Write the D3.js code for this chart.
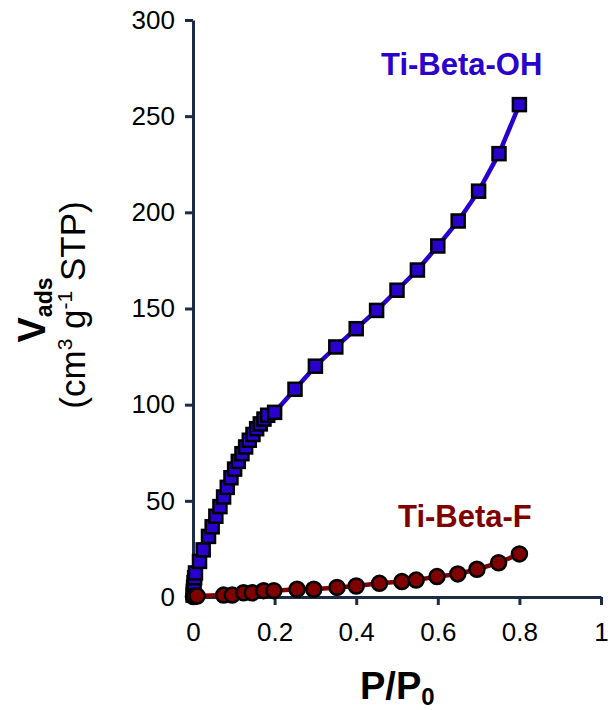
<!DOCTYPE html>
<head>
	<meta charset="UTF-8">
	<script src="https://d3js.org/d3.v7.min.js"></script>
	<style>
		body { margin: 0; background: #fff; }
		text { font-family: "Liberation Sans", Arial, sans-serif; }
	</style>
</head>
<body>
	<div id="chart"></div>
<script>

// Ti-Beta-OH isotherm (squares)
const ohP = [0.0003, 0.0008, 0.0015, 0.0025, 0.004, 0.006, 0.016, 0.025, 0.038, 0.047, 0.056, 0.066, 0.075, 0.084, 0.093,
  0.102, 0.111, 0.120, 0.129, 0.138, 0.147, 0.156, 0.165, 0.174, 0.183, 0.2, 0.25, 0.30, 0.35, 0.40, 0.45,
  0.50, 0.55, 0.60, 0.65, 0.70, 0.75, 0.80];
const ohV = [1, 3, 5, 7.5, 10, 12.5, 18.5, 24.5, 31.5, 36.5, 42, 47, 52, 57, 62,
  66.5, 70.5, 74.5, 78, 81.5, 84.5, 87.5, 90, 92.5, 94.5, 96, 108, 120, 130, 139.5, 149,
  159.5, 170, 182.5, 195.5, 211, 230.5, 256];

// Ti-Beta-F isotherm (circles)
const fP = [0.001, 0.003, 0.01, 0.075, 0.096, 0.124, 0.145, 0.173, 0.198, 0.255, 0.296, 0.353, 0.40, 0.457,
  0.512, 0.547, 0.598, 0.649, 0.696, 0.749, 0.80];
const fV = [0.2, 0.4, 0.5, 1, 1, 2.2, 2.2, 3.3, 3.3, 4, 4, 5, 5.7, 7.1,
  8, 8.8, 10.6, 12, 14.4, 17.8, 22.4];

const xTicks = [0, 0.2, 0.4, 0.6, 0.8, 1];
const yTicks = [0, 50, 100, 150, 200, 250, 300];

const width = 608, height = 710;
const blue = "#2a00cc", red = "#800000", axisCol = "#1c2c48";

const x = d3.scaleLinear().domain([0, 1]).range([193, 601]);
const y = d3.scaleLinear().domain([0, 300]).range([597, 20]);

const svg = d3.select("#chart").append("svg")
  .attr("width", width)
  .attr("height", height);

// axes
const xAxis = svg.append("g")
  .attr("transform", `translate(0,${y(0)})`)
  .call(d3.axisBottom(x).tickValues(xTicks).tickFormat(d3.format("")).tickSize(8).tickSizeOuter(0).tickPadding(18));
const yAxis = svg.append("g")
  .attr("transform", `translate(${x(0)},0)`)
  .call(d3.axisLeft(y).tickValues(yTicks).tickSize(8).tickSizeOuter(0).tickPadding(10));

[xAxis, yAxis].forEach(a => {
  a.select(".domain").attr("stroke", axisCol).attr("stroke-width", 3);
  a.selectAll(".tick line").attr("stroke", axisCol).attr("stroke-width", 3);
  a.selectAll(".tick text").attr("font-size", 26).attr("fill", "#000")
    .attr("font-family", "Liberation Sans, Arial, sans-serif");
});

const line = d3.line().x(d => x(d[0])).y(d => y(d[1]));
const ohData = ohP.map((p, i) => [p, ohV[i]]);
const fData = fP.map((p, i) => [p, fV[i]]);

// Ti-Beta-OH
svg.append("path").datum(ohData)
  .attr("d", line)
  .attr("fill", "none")
  .attr("stroke", blue)
  .attr("stroke-width", 4.5);
svg.append("g").selectAll("rect")
  .data(ohData)
  .join("rect")
  .attr("x", d => x(d[0]) - 6.5)
  .attr("y", d => y(d[1]) - 6.5)
  .attr("width", 13)
  .attr("height", 13)
  .attr("fill", blue)
  .attr("stroke", "#000")
  .attr("stroke-width", 2.5);

// Ti-Beta-F
svg.append("path").datum(fData)
  .attr("d", line)
  .attr("fill", "none")
  .attr("stroke", red)
  .attr("stroke-width", 4.5);
svg.append("g").selectAll("circle")
  .data(fData)
  .join("circle")
  .attr("cx", d => x(d[0]))
  .attr("cy", d => y(d[1]))
  .attr("r", 7.5)
  .attr("fill", red)
  .attr("stroke", "#000")
  .attr("stroke-width", 2.5);

// series labels
svg.append("text")
  .attr("x", 381).attr("y", 75)
  .attr("font-size", 31).attr("font-weight", "bold")
  .attr("fill", blue)
  .text("Ti-Beta-OH");
svg.append("text")
  .attr("x", 398).attr("y", 527)
  .attr("font-size", 31).attr("font-weight", "bold")
  .attr("fill", red)
  .text("Ti-Beta-F");

// x title
const xt = svg.append("text")
  .attr("x", 360).attr("y", 699)
  .attr("font-size", 38).attr("font-weight", "bold");
xt.append("tspan").text("P/P");
xt.append("tspan").attr("font-size", 24).attr("dy", 6).text("0");

// y title
const yt1 = svg.append("text")
  .attr("transform", "translate(45,310) rotate(-90)")
  .attr("text-anchor", "middle")
  .attr("font-size", 38).attr("font-weight", "bold");
yt1.append("tspan").text("V");
yt1.append("tspan").attr("font-size", 23).attr("dy", 7).text("ads");

const yt2 = svg.append("text")
  .attr("transform", "translate(85,305) rotate(-90)")
  .attr("text-anchor", "middle")
  .attr("font-size", 35);
yt2.append("tspan").text("(cm");
yt2.append("tspan").attr("font-size", 21).attr("dy", -13).text("3");
yt2.append("tspan").attr("dy", 13).text(" g");
yt2.append("tspan").attr("font-size", 21).attr("dy", -13).text("-1");
yt2.append("tspan").attr("dy", 13).text(" STP)");

</script>
</body>
</html>
